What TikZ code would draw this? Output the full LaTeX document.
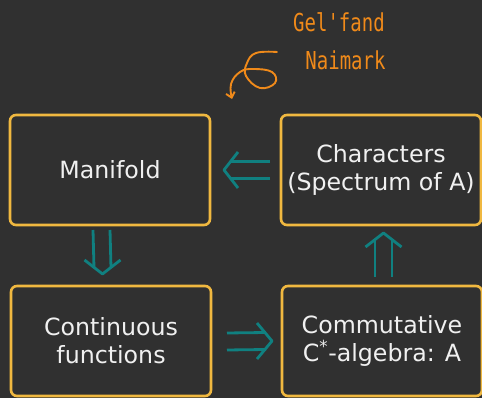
\documentclass[tikz,border=0pt]{standalone}
\usepackage{fontspec}
\usepackage{graphicx}
\setmainfont{DejaVu Sans}
\newfontfamily\handfont{DejaVu Sans Mono}
\usetikzlibrary{calc,arrows.meta}
\definecolor{bg}{RGB}{48,48,48}
\definecolor{boxc}{RGB}{240,184,64}
\definecolor{tealc}{RGB}{16,128,128}
\definecolor{orng}{RGB}{240,138,26}
\newcommand\handtxt[1]{\scalebox{1}[1.3]{#1}}
\begin{document}
\begin{tikzpicture}[x=1pt,y=1pt,
  box/.style={draw=boxc, line width=2.6pt, rounded corners=6pt, minimum width=200pt,
    minimum height=110pt, outer sep=0pt, inner sep=0pt, text=white!94!black,
    font=\fontsize{23.7}{28}\selectfont, align=center},
  arw/.style={draw=tealc, line width=2.8pt, line join=round},
  hand/.style={text=orng, font=\handfont\fontsize{19}{22}\selectfont, anchor=base},
  curl/.style={draw=orng, line width=1.9pt, line cap=round, -{Straight Barb[length=5pt,width=9pt]}}]
\fill[bg] (0,0) rectangle (482,398);
\useasboundingbox (0,0) rectangle (482,398);
% boxes
\node[box] (man) at (110,228) {Manifold};
\node[box] (chr) at (381,228) {Characters\\(Spectrum of A)};
\node[box] (con) at (111,57) {Continuous\\functions};
\node[box] (com) at (382,57) {Commutative\\C\textsuperscript{*}-algebra: A};
% annotation
\node[hand] (gel) at (339,366) {\handtxt{Gel'fand}};
\node[hand] (nai) at (345.5,328) {\handtxt{Naimark}};
\coordinate (cs) at (277,346);
\draw[curl] plot[smooth, tension=0.7] coordinates {(cs) (256,345) (247,335) (246,322) (260,310) (275,315) (272,326) (253,329) (240,326) (231,314) (232,299)};
% left double arrow: Characters => Manifold
\coordinate (lt) at ([xshift=-11pt]chr.west);
\coordinate (lp) at ([xshift=14pt]man.east);
\draw[arw] ([yshift=8.5pt]lt) -- ([shift={(6pt,8.5pt)}]lp);
\draw[arw] ([yshift=-8.5pt]lt) -- ([shift={(6pt,-8.5pt)}]lp);
\draw[arw] ([shift={(14pt,18pt)}]lp) -- (lp) -- ([shift={(14pt,-18pt)}]lp);
% down double arrow: Manifold => Continuous
\coordinate (dt) at ([shift={(-8.5pt,-5pt)}]man.south);
\coordinate (dp) at ([shift={(-8.5pt,12pt)}]con.north);
\draw[arw] ([xshift=-8.5pt]dt) -- ([shift={(-8.5pt,6pt)}]dp);
\draw[arw] ([xshift=8.5pt]dt) -- ([shift={(8.5pt,6pt)}]dp);
\draw[arw] ([shift={(-18pt,14pt)}]dp) -- (dp) -- ([shift={(18pt,14pt)}]dp);
% right double arrow: Continuous => Commutative
\coordinate (rt) at ([shift={(16pt,-0.5pt)}]con.east);
\coordinate (rp) at ([xshift=-10pt]com.west);
\draw[arw] ([yshift=8.5pt]rt) -- ([shift={(-6pt,8.5pt)}]rp);
\draw[arw] ([yshift=-8.5pt]rt) -- ([shift={(-6pt,-8.5pt)}]rp);
\draw[arw] ([shift={(-15pt,18pt)}]rp) -- (rp) -- ([shift={(-15pt,-18pt)}]rp);
% up double arrow: Commutative => Characters
\coordinate (ut) at ([shift={(1.5pt,9pt)}]com.north);
\coordinate (up) at ([shift={(2.5pt,-8pt)}]chr.south);
\draw[arw] ([xshift=-8.5pt]ut) -- ([shift={(-8.5pt,-6pt)}]up);
\draw[arw] ([xshift=8.5pt]ut) -- ([shift={(8.5pt,-6pt)}]up);
\draw[arw] ([shift={(-18pt,-14pt)}]up) -- (up) -- ([shift={(18pt,-14pt)}]up);
\end{tikzpicture}
\end{document}
